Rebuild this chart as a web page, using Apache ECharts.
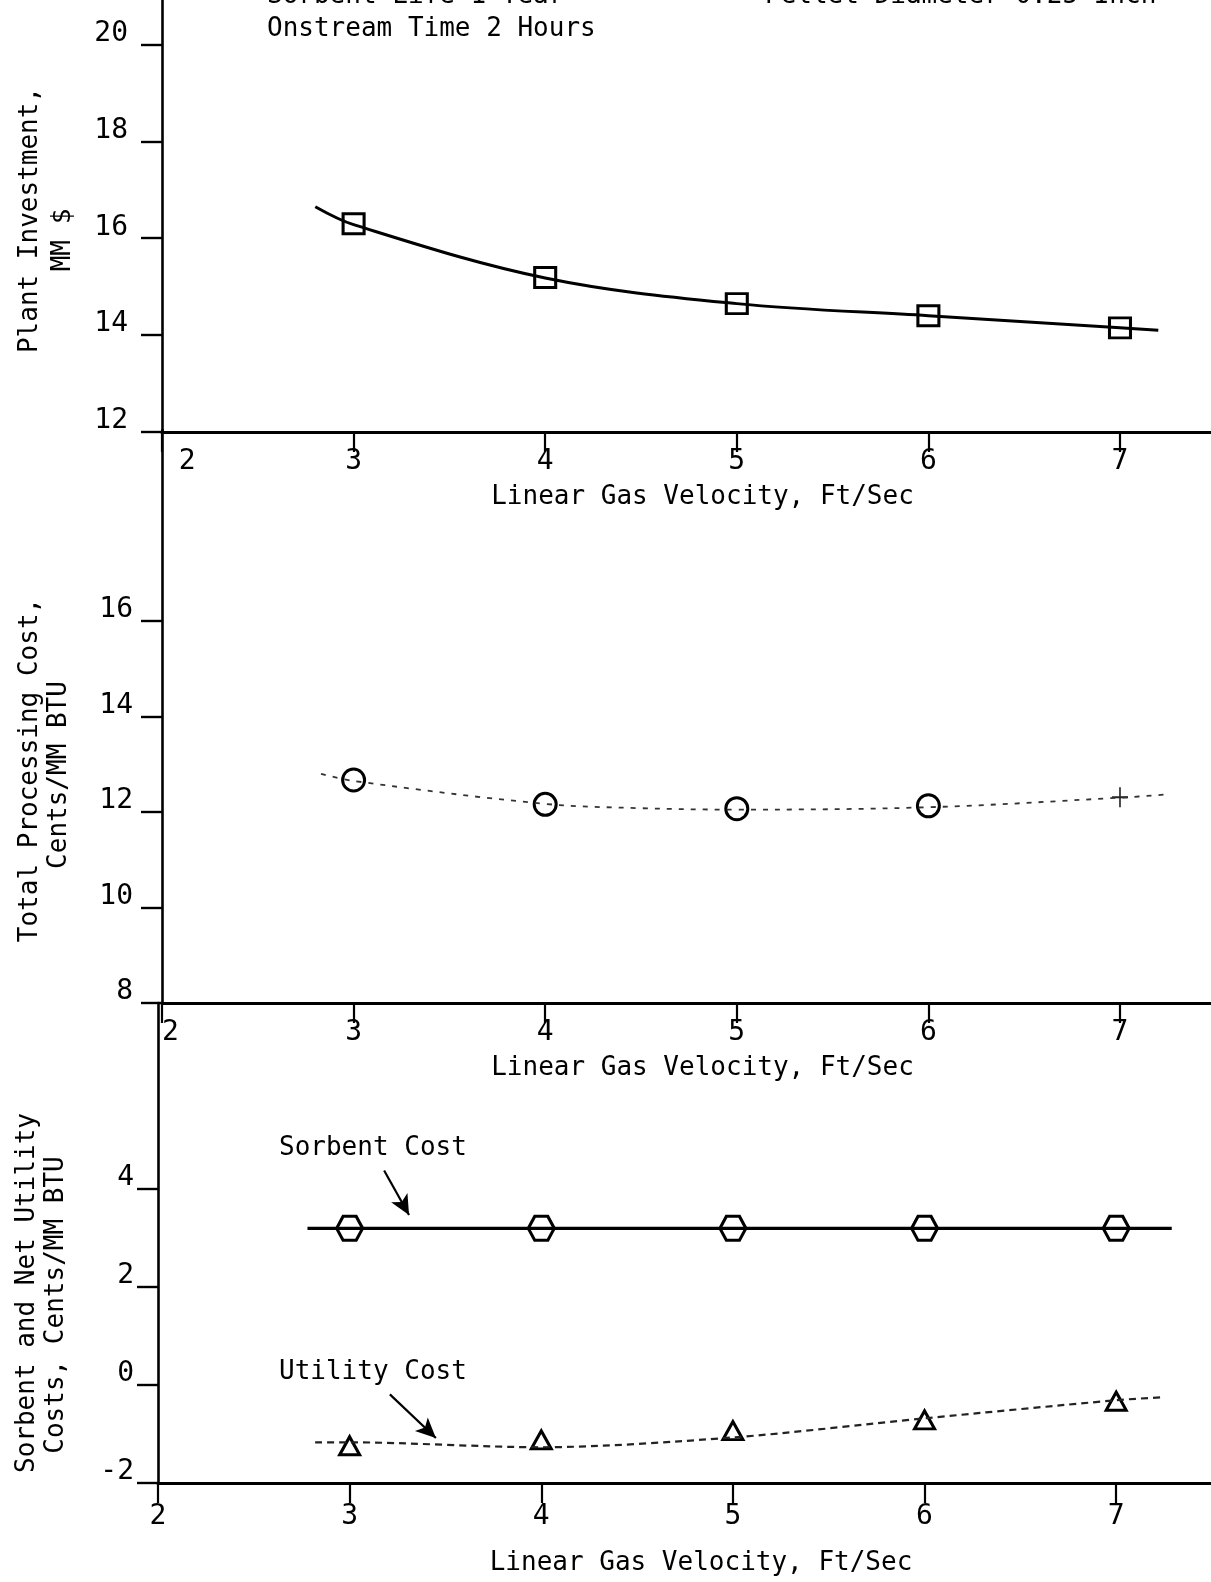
<!DOCTYPE html>
<html>
<head>
<meta charset="utf-8">
<script src="https://cdn.jsdelivr.net/npm/echarts@6/dist/echarts.min.js"></script>
<style>
html,body{margin:0;padding:0;background:#fff;}
#chart{width:1211px;height:1582px;}
</style>
</head>
<body>
<div id="chart"></div>
<script>
// ---- data ----
const velocity = [3, 4, 5, 6, 7];
const xTicks = [2, 3, 4, 5, 6, 7];

const investPoints = [16.30, 15.19, 14.65, 14.40, 14.15];
const investCurveX = [2.8, 3, 4, 5, 6, 7, 7.2];
const investCurveY = [16.65, 16.28, 15.18, 14.65, 14.40, 14.15, 14.10];
const investTicks = [12, 14, 16, 18, 20];

const costPoints = [12.67, 12.16, 12.07, 12.13, 12.31];
const costCurveX = [2.83, 3, 4, 4.5, 5, 6, 7, 7.25];
const costCurveY = [12.80, 12.65, 12.17, 12.08, 12.05, 12.10, 12.30, 12.37];
const costTicks = [8, 10, 12, 14, 16];

const sorbentPoints = [3.2, 3.2, 3.2, 3.2, 3.2];
const sorbentCurveX = [2.78, 7.29];
const sorbentCurveY = [3.2, 3.2];
const utilityPoints = [-1.24, -1.12, -0.93, -0.71, -0.33];
const utilityCurveX = [2.82, 3, 4, 5, 6, 7, 7.24];
const utilityCurveY = [-1.17, -1.17, -1.27, -1.07, -0.68, -0.31, -0.25];
const utilTicks = [-2, 0, 2, 4];

const FONT = 'DejaVu Sans Mono';
const INK = '#000';
const TXT = '26px "DejaVu Sans Mono"';

function zip(xs, ys) { return xs.map((x, i) => [x, ys[i]]); }

function xAxisCfg(gi, max, margin, nameGap, firstPad) {
  return {
    type: 'value', gridIndex: gi, min: 2, max: max, interval: 1,
    name: 'Linear Gas Velocity, Ft/Sec', nameLocation: 'middle', nameGap: nameGap,
    nameTextStyle: { fontFamily: FONT, fontSize: 26, color: INK, padding: [0, 0, 0, 32] },
    axisLine: { show: true, onZero: false, lineStyle: { color: INK, width: 3 } },
    axisTick: { show: true, length: 20, customValues: xTicks, lineStyle: { color: INK, width: 2.2 } },
    axisLabel: {
      customValues: xTicks, margin: margin, fontFamily: FONT, fontSize: 28, color: INK,
      formatter: v => (v === 2 ? firstPad + '2' : String(v))
    },
    splitLine: { show: false }
  };
}
function yAxisCfg(gi, min, max, ticks, margin) {
  return {
    type: 'value', gridIndex: gi, min: min, max: max, interval: 2,
    axisLine: { show: true, onZero: false, lineStyle: { color: INK, width: 2.6 } },
    axisTick: { show: true, length: 21, customValues: ticks, lineStyle: { color: INK, width: 2.4 } },
    axisLabel: {
      customValues: ticks, margin: margin, fontFamily: FONT, fontSize: 28, color: INK,
      verticalAlign: 'bottom', lineHeight: 22
    },
    splitLine: { show: false }
  };
}
const hollow = { color: 'rgba(0,0,0,0)', borderColor: INK, borderWidth: 3, opacity: 1 };

const chart = echarts.init(document.getElementById('chart'), null, { renderer: 'canvas' });
chart.setOption({
  backgroundColor: '#fff',
  animation: false,
  grid: [
    { left: 162, top: -4, width: 1049, height: 436, containLabel: false, outerBoundsMode: 'none' },
    { left: 162, top: 430, width: 1049, height: 573, containLabel: false, outerBoundsMode: 'none' },
    { left: 158, top: 1003, width: 1054, height: 480, containLabel: false, outerBoundsMode: 'none' }
  ],
  xAxis: [
    xAxisCfg(0, 7.475, 16, 52, '   '),
    xAxisCfg(1, 7.475, 16, 52, ' '),
    xAxisCfg(2, 7.5, 20, 67, '')
  ],
  yAxis: [
    yAxisCfg(0, 12, 21, investTicks, 34),
    yAxisCfg(1, 8, 20, costTicks, 29),
    yAxisCfg(2, -2, 7.8, utilTicks, 24)
  ],
  series: [
    { type: 'line', xAxisIndex: 0, yAxisIndex: 0, data: zip(investCurveX, investCurveY), smooth: 0.35,
      showSymbol: false, lineStyle: { color: INK, width: 3 } },
    { type: 'scatter', xAxisIndex: 0, yAxisIndex: 0, data: zip(velocity, investPoints),
      symbol: 'rect', symbolSize: [21, 20], itemStyle: hollow },

    { type: 'line', xAxisIndex: 1, yAxisIndex: 1, data: zip(costCurveX, costCurveY), smooth: 0.35,
      showSymbol: false, lineStyle: { color: '#333', width: 1.8, type: [5, 7] } },
    { type: 'scatter', xAxisIndex: 1, yAxisIndex: 1,
      data: velocity.map((x, i) => i < 4 ? [x, costPoints[i]] :
        { value: [x, costPoints[i]], symbol: 'path://M0,5 L10,5 M5,0 L5,10', symbolSize: [16, 20],
          itemStyle: { color: 'rgba(0,0,0,0)', borderColor: '#222', borderWidth: 1.8, opacity: 1 } }),
      symbol: 'circle', symbolSize: 22, itemStyle: hollow },

    { type: 'line', xAxisIndex: 2, yAxisIndex: 2, data: zip(sorbentCurveX, sorbentCurveY),
      showSymbol: false, lineStyle: { color: INK, width: 3.2 },
      markLine: { silent: true, symbol: ['none', 'arrow'], symbolSize: [14, 20],
        lineStyle: { color: INK, width: 2.2, type: 'solid' }, label: { show: false },
        data: [[{ coord: [3.18, 4.38] }, { coord: [3.31, 3.47] }]] } },
    { type: 'scatter', xAxisIndex: 2, yAxisIndex: 2, data: zip(velocity, sorbentPoints),
      symbol: 'path://M0,5 L3,0 L9,0 L12,5 L9,10 L3,10 Z', symbolSize: [26, 24], itemStyle: hollow },

    { type: 'line', xAxisIndex: 2, yAxisIndex: 2, data: zip(utilityCurveX, utilityCurveY), smooth: 0.3,
      showSymbol: false, lineStyle: { color: '#222', width: 2.2, type: [7, 5] },
      markLine: { silent: true, symbol: ['none', 'arrow'], symbolSize: [14, 20],
        lineStyle: { color: INK, width: 2.2, type: 'solid' }, label: { show: false },
        data: [[{ coord: [3.21, -0.19] }, { coord: [3.45, -1.08] }]] } },
    { type: 'scatter', xAxisIndex: 2, yAxisIndex: 2, data: zip(velocity, utilityPoints),
      symbol: 'triangle', symbolSize: [20, 18], itemStyle: hollow }
  ],
  graphic: [
    { type: 'text', left: 267, top: -17, style: { text: 'Sorbent Life 1 Year', font: TXT, fill: INK } },
    { type: 'text', left: 267, top: 16, style: { text: 'Onstream Time 2 Hours', font: TXT, fill: INK } },
    { type: 'text', left: 765, top: -17, style: { text: 'Pellet Diameter 0.25 Inch', font: TXT, fill: INK } },

    { type: 'text', x: 30, y: 220, rotation: Math.PI / 2, style: { text: 'Plant Investment,', font: TXT, fill: INK, align: 'center', verticalAlign: 'middle' } },
    { type: 'text', x: 63, y: 240, rotation: Math.PI / 2, style: { text: 'MM $', font: TXT, fill: INK, align: 'center', verticalAlign: 'middle' } },
    { type: 'text', x: 30, y: 770, rotation: Math.PI / 2, style: { text: 'Total Processing Cost,', font: TXT, fill: INK, align: 'center', verticalAlign: 'middle' } },
    { type: 'text', x: 59, y: 775, rotation: Math.PI / 2, style: { text: 'Cents/MM BTU', font: TXT, fill: INK, align: 'center', verticalAlign: 'middle' } },
    { type: 'text', x: 27, y: 1293, rotation: Math.PI / 2, style: { text: 'Sorbent and Net Utility', font: TXT, fill: INK, align: 'center', verticalAlign: 'middle' } },
    { type: 'text', x: 56, y: 1305, rotation: Math.PI / 2, style: { text: 'Costs, Cents/MM BTU', font: TXT, fill: INK, align: 'center', verticalAlign: 'middle' } },

    { type: 'text', left: 279, top: 1135, style: { text: 'Sorbent Cost', font: TXT, fill: INK } },
    { type: 'text', left: 279, top: 1359, style: { text: 'Utility Cost', font: TXT, fill: INK } }
  ]
});
</script>
</body>
</html>
